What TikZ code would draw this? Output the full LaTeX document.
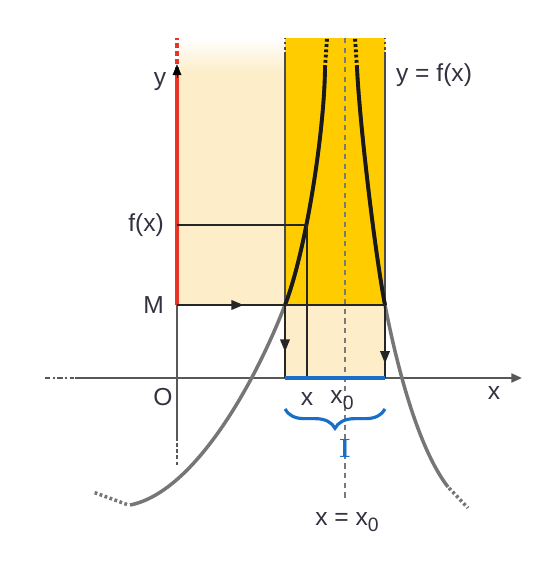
\documentclass[tikz,border=0pt]{standalone}
\usepackage{fontspec}
\setsansfont{Liberation Sans}
\usepackage{xcolor}
\usetikzlibrary{arrows.meta,positioning,decorations.pathreplacing,decorations.markings}

\definecolor{gold}{RGB}{255,204,0}
\definecolor{cream}{RGB}{253,237,200}
\definecolor{axisgray}{RGB}{88,88,88}
\definecolor{curvegray}{RGB}{118,118,118}
\definecolor{redaxis}{RGB}{232,52,36}
\definecolor{blueI}{RGB}{25,110,200}
\definecolor{textgray}{RGB}{50,50,66}

\newcommand\leftbranch{(-0.94,-2.54) .. controls (0.3,-2.3) and (1.51,-0.22) .. (2.16,1.46)
    .. controls (2.6,2.6) and (2.95,5.0) .. (2.96,6.2)}
\newcommand\rightbranch{(3.6,6.2) .. controls (3.66,5.0) and (3.97,2.44) .. (4.16,1.46)
    .. controls (4.39,0.28) and (4.81,-1.39) .. (5.42,-2.18)}
\newcommand\xzero{x\raisebox{-0.45ex}{\fontsize{11}{12}\selectfont 0}}

\begin{document}
\begin{tikzpicture}[
    font=\sffamily\fontsize{14}{16}\selectfont, text=textgray,
    axisline/.style={draw=axisgray, line width=1.3pt},
    thinline/.style={draw=black!85, line width=0.8pt},
    curve/.style={draw=curvegray, line width=2pt},
    blackcurve/.style={draw=black!90, line width=2.2pt},
    dots/.style={dash pattern=on 1.6pt off 1.4pt},
    tri/.style={-{Triangle[length=6pt,width=5pt]}},
    midarrow/.style={postaction={decorate, decoration={markings,
        mark=at position #1 with {\arrow{Triangle[length=7pt,width=5.5pt]}}}}}]
    \useasboundingbox (-3.54,-3.7) rectangle (7.14,7.56);

    % 点の定義
    \coordinate (O) at (0,0);
    \coordinate (A) at (2.16,0);
    \coordinate (B) at (4.16,0);
    \coordinate (MY) at (0,1.46);
    \coordinate (MA) at (2.16,1.46);
    \coordinate (MB) at (4.16,1.46);
    \coordinate (FY) at (0,3.06);
    \coordinate (P) at (2.6,3.06);
    \coordinate (PX) at (2.6,0);
    \coordinate (At) at (2.16,6.46);
    \coordinate (Bt) at (4.16,6.46);

    % 塗り
    \fill[cream] (0.05,1.46) rectangle (2.16,6.1);
    \shade[top color=white, bottom color=cream] (0.05,6.1) rectangle (2.16,6.8);
    \fill[cream] (A) rectangle (MB);
    \fill[gold] (MA) rectangle (4.16,6.8);

    % 漸近線
    \draw[axisgray!80, line width=0.7pt, dash pattern=on 3pt off 2.5pt] (3.36,6.8) -- (3.36,-2.44);

    % 軸
    \draw[axisline, tri] (-2.04,0) -- (6.9,0);
    \draw[axisline, dash pattern=on 3pt off 1.5pt on 1pt off 1.5pt] (-2.64,0) -- (-2.06,0);
    \draw[axisline] (0,-1.18) -- (MY);
    \draw[axisline, dash pattern=on 2pt off 1.5pt] (0,-1.18) -- (0,-1.78);
    \draw[redaxis, line width=2.8pt] (MY) -- (0,6.12);
    \draw[redaxis, line width=2.8pt, dash pattern=on 3pt off 1.5pt] (0,6.12) -- (0,6.8);
    \draw[black, line width=0.1pt, tri] (0,6.0) -- (0,6.27);

    % 長方形の縁
    \draw[thinline, draw=black!70, line width=0.6pt] (MA) -- (At);
    \draw[thinline, draw=black!70, line width=0.6pt, dots] (At) -- (2.16,6.8);
    \draw[thinline, draw=black!70, line width=0.6pt] (MB) -- (Bt);
    \draw[thinline, draw=black!70, line width=0.6pt, dots] (Bt) -- (4.16,6.8);

    % 曲線
    \draw[curve] \leftbranch;
    \draw[curve] \rightbranch;
    \begin{scope}
        \clip (1,1.46) rectangle (5,6.8);
        \draw[blackcurve] \leftbranch;
        \draw[blackcurve] \rightbranch;
    \end{scope}
    \draw[blackcurve, dots] (2.96,6.2) -- (3.0,6.8);
    \draw[blackcurve, dots] (3.6,6.2) -- (3.56,6.8);
    \draw[curve, dots] (-1.0,-2.53) -- (-1.68,-2.28);
    \draw[curve, dots] (5.44,-2.2) -- (5.82,-2.6);

    % 矢印と補助線
    \draw[thinline] (FY) -- (P) -- (PX);
    \draw[thinline, line width=1pt, midarrow=0.32] (MY) -- (MB);
    \draw[thinline, midarrow=0.64] (MA) -- (A);
    \draw[thinline, midarrow=0.8] (MB) -- (B);

    % 区間 I
    \draw[blueI, line width=2.4pt] (A) -- (B);
    \draw[blueI, line width=1.8pt, decorate, decoration={brace, mirror, amplitude=11pt}]
        (2.16,-0.62) -- (4.16,-0.62);

    % ラベル
    \node (ylab) at (-0.34,5.92) {y};
    \node[left=0.22cm of FY, inner sep=1pt] (fxlab) {f(x)};
    \node[left=0.22cm of MY, inner sep=1pt] (Mlab) {M};
    \node (Olab) at (-0.28,-0.38) {O};
    \node (xaxlab) at (6.34,-0.3) {x};
    \node (xlab) at (2.6,-0.42) {x};
    \node (x0lab) at (3.3,-0.44) {\xzero};
    \node[anchor=west, inner sep=1pt] (flab) at (4.34,6.06) {y = f(x)};
    \node (asylab) at (3.4,-2.88) {x = \xzero};
    \node[text=blueI, font=\rmfamily\bfseries\fontsize{15}{17}\selectfont] (Ilab) at (3.36,-1.4) {I};
\end{tikzpicture}
\end{document}
